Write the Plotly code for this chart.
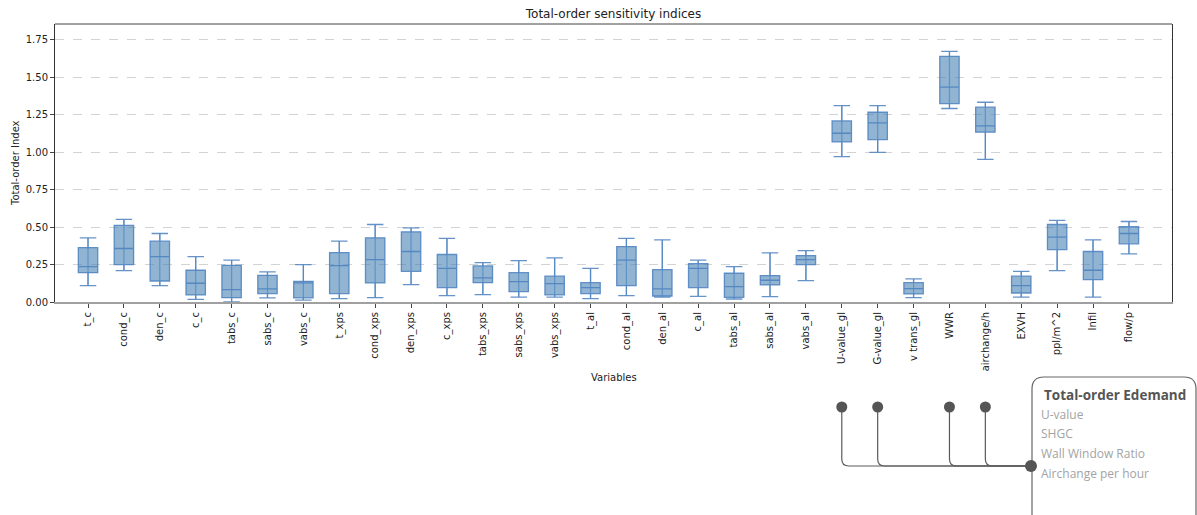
import plotly.graph_objects as go

# Total-order sensitivity indices per input variable (box statistics)
variables = ["t_c", "cond_c", "den_c", "c_c", "tabs_c", "sabs_c", "vabs_c",
             "t_xps", "cond_xps", "den_xps", "c_xps", "tabs_xps", "sabs_xps", "vabs_xps",
             "t_al", "cond_al", "den_al", "c_al", "tabs_al", "sabs_al", "vabs_al",
             "U-value_gl", "G-value_gl", "v trans_gl", "WWR", "airchange/h",
             "EXVH", "ppl/m^2", "Infil", "flow/p"]
lower = [0.109, 0.210, 0.109, 0.018, 0.000, 0.027, 0.013,
         0.022, 0.029, 0.116, 0.042, 0.049, 0.033, 0.033,
         0.022, 0.042, 0.033, 0.038, 0.020, 0.036, 0.143,
         0.970, 0.999, 0.029, 1.291, 0.952,
         0.033, 0.210, 0.033, 0.321]
q1 = [0.196, 0.250, 0.140, 0.047, 0.029, 0.056, 0.027,
      0.056, 0.127, 0.205, 0.096, 0.129, 0.069, 0.047,
      0.056, 0.109, 0.040, 0.096, 0.031, 0.114, 0.250,
      1.068, 1.084, 0.054, 1.324, 1.133,
      0.060, 0.350, 0.149, 0.388]
median = [0.236, 0.357, 0.303, 0.125, 0.082, 0.087, 0.127,
          0.243, 0.283, 0.337, 0.225, 0.161, 0.136, 0.123,
          0.096, 0.279, 0.087, 0.225, 0.103, 0.145, 0.283,
          1.126, 1.195, 0.089, 1.434, 1.175,
          0.109, 0.433, 0.212, 0.457]
q3 = [0.363, 0.511, 0.406, 0.212, 0.245, 0.178, 0.138,
      0.330, 0.428, 0.468, 0.317, 0.241, 0.196, 0.172,
      0.129, 0.370, 0.216, 0.256, 0.192, 0.176, 0.310,
      1.208, 1.266, 0.129, 1.639, 1.300,
      0.172, 0.517, 0.337, 0.502]
upper = [0.428, 0.551, 0.457, 0.303, 0.279, 0.201, 0.250,
         0.406, 0.517, 0.495, 0.424, 0.263, 0.276, 0.294,
         0.225, 0.424, 0.415, 0.279, 0.236, 0.328, 0.343,
         1.311, 1.311, 0.154, 1.672, 1.333,
         0.205, 0.544, 0.415, 0.537]
y_ticks = [0.0, 0.25, 0.5, 0.75, 1.0, 1.25, 1.5, 1.75]

# Side panel: most influential inputs for energy demand
highlight_vars = ["U-value_gl", "G-value_gl", "WWR", "airchange/h"]
panel_title = "Total-order Edemand"
panel_items = ["U-value", "SHGC", "Wall Window Ratio", "Airchange per hour"]

W, H = 1197, 515
M_L, M_R, M_T, M_B = 55, 25, 24, 213
PLOT_W = W - M_L - M_R
PLOT_H = H - M_T - M_B
X_RANGE = [-0.92, 30.2]
Y_RANGE = [0, 1.855]
FONT = "DejaVu Sans"


def px_x(px):
    """Horizontal pixel -> paper fraction."""
    return (px - M_L) / PLOT_W


def px_y(py):
    """Vertical pixel (from top) -> paper fraction."""
    return (H - M_B - py) / PLOT_H


def cat_x(idx):
    """Category index -> paper fraction."""
    return (idx - X_RANGE[0]) / (X_RANGE[1] - X_RANGE[0])


fig = go.Figure()

fig.add_trace(go.Box(
    x=variables, q1=q1, median=median, q3=q3,
    lowerfence=lower, upperfence=upper,
    width=0.54, whiskerwidth=0.85,
    fillcolor="rgba(70,130,180,0.6)",
    line=dict(color="rgba(75,128,190,0.85)", width=1.3),
    boxpoints=False, hoverinfo="skip", showlegend=False,
))

# whisker stems running through each box
wx, wy = [], []
for v, lo, hi in zip(variables, lower, upper):
    wx += [v, v, None]
    wy += [lo, hi, None]
fig.add_trace(go.Scatter(
    x=wx, y=wy, mode="lines",
    line=dict(color="rgba(80,135,195,0.75)", width=1.2),
    hoverinfo="skip", showlegend=False,
))

shapes = []
# top frame line
shapes.append(dict(type="line", xref="paper", yref="paper", x0=0, x1=1, y0=1, y1=1,
                   line=dict(color="#444", width=1)))

# rounded panel box
l, r, t, b, rad = 1032, 1196, 377, 540, 12
rx, ry = rad / PLOT_W, rad / PLOT_H
L, R, T, B = px_x(l), px_x(r), px_y(t), px_y(b)
panel_path = (f"M {L},{B} L {L},{T - ry} Q {L},{T} {L + rx},{T} "
              f"L {R - rx},{T} Q {R},{T} {R},{T - ry} L {R},{B}")
shapes.append(dict(type="path", xref="paper", yref="paper", path=panel_path,
                   line=dict(color="#666", width=1.2)))

# connectors from highlighted variables to the panel
dot_y, join_y, end_x = 407, 466, 1031
for name in highlight_vars:
    idx = variables.index(name)
    xp = cat_x(idx)
    path = (f"M {xp},{px_y(dot_y)} L {xp},{px_y(join_y - 7)} "
            f"Q {xp},{px_y(join_y)} {xp + 7 / PLOT_W},{px_y(join_y)} "
            f"L {px_x(end_x)},{px_y(join_y)}")
    shapes.append(dict(type="path", xref="paper", yref="paper", path=path,
                       line=dict(color="#5a5a5a", width=1.2)))
    shapes.append(dict(type="circle", xref="paper", yref="paper",
                       xsizemode="pixel", ysizemode="pixel",
                       xanchor=xp, yanchor=px_y(dot_y),
                       x0=-5.5, x1=5.5, y0=-5.5, y1=5.5,
                       fillcolor="#555", line=dict(color="#555", width=0)))
shapes.append(dict(type="circle", xref="paper", yref="paper",
                   xsizemode="pixel", ysizemode="pixel",
                   xanchor=px_x(end_x), yanchor=px_y(join_y),
                   x0=-6, x1=6, y0=-6, y1=6,
                   fillcolor="#555", line=dict(color="#555", width=0)))

annotations = [
    dict(text="Total-order Index", xref="paper", yref="paper",
         x=px_x(15), y=px_y(163), textangle=-90, showarrow=False,
         font=dict(family=FONT, size=10, color="#222"),
         xanchor="center", yanchor="middle"),
    dict(text="Variables", xref="paper", yref="paper",
         x=0.5, y=px_y(377), showarrow=False,
         font=dict(family=FONT, size=10, color="#222"),
         xanchor="center", yanchor="middle"),
    dict(text=f"<b>{panel_title}</b>", xref="paper", yref="paper",
         x=px_x(1042), y=px_y(395), showarrow=False,
         font=dict(family="Open Sans", size=13.5, color="#555"),
         xanchor="left", yanchor="middle"),
]
for i, item in enumerate(panel_items):
    annotations.append(dict(
        text=item, xref="paper", yref="paper",
        x=px_x(1039), y=px_y(414 + i * 19.7), showarrow=False,
        font=dict(family="Open Sans", size=12, color="#a3a3a3"),
        xanchor="left", yanchor="middle"))

fig.update_layout(
    width=W, height=H,
    margin=dict(l=M_L, r=M_R, t=M_T, b=M_B),
    paper_bgcolor="white", plot_bgcolor="white",
    title=dict(text="Total-order sensitivity indices", x=0.5, xref="paper",
               y=1 - 14 / H, yref="container", xanchor="center", yanchor="middle",
               font=dict(family=FONT, size=12, color="#222")),
    font=dict(family=FONT, size=10, color="#333"),
    shapes=shapes, annotations=annotations,
    showlegend=False,
)
fig.update_xaxes(
    type="category", range=X_RANGE, tickangle=-90,
    showgrid=False, showline=True, linecolor="#a0a0a0", linewidth=2,
    ticks="outside", ticklen=4, tickcolor="#444",
    tickfont=dict(family=FONT, size=10, color="#222"),
)
fig.update_yaxes(
    range=Y_RANGE, tickvals=y_ticks, tickformat=".2f",
    showgrid=True, gridcolor="#d3d3d3", griddash="dash", gridwidth=1,
    zeroline=False, showline=True, linecolor="#333", linewidth=1, mirror=True,
    ticks="outside", ticklen=4, tickcolor="#444",
    tickfont=dict(family=FONT, size=10, color="#222"),
)

fig.write_html("out.html")
